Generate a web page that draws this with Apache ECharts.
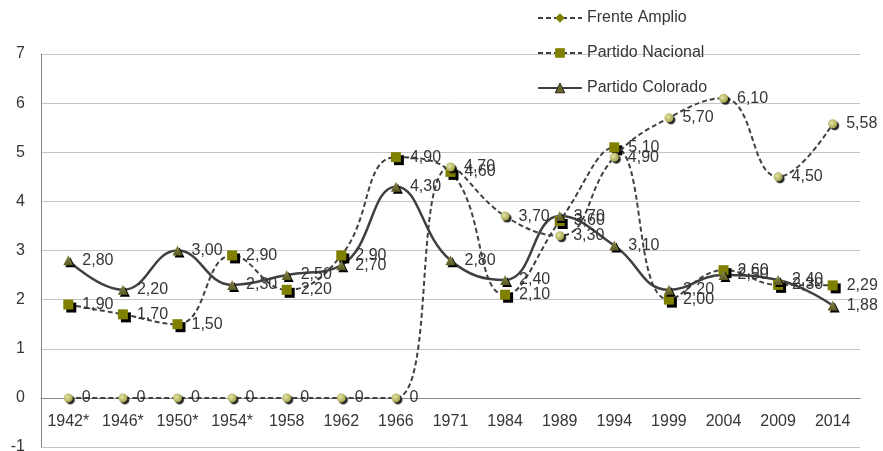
<!DOCTYPE html>
<html><head><meta charset="utf-8">
<script src="https://cdn.jsdelivr.net/npm/echarts@6/dist/echarts.min.js"></script>
<style>html,body{margin:0;padding:0;background:#fff}#c{width:883px;height:451px}</style>
</head><body><div id="c"></div>
<script>
const categories = ['1942*','1946*','1950*','1954*','1958','1962','1966','1971','1984','1989','1994','1999','2004','2009','2014'];
const frenteAmplio = [0,0,0,0,0,0,0,4.70,3.70,3.30,4.90,5.70,6.10,4.50,5.58];
const partidoNacional = [1.90,1.70,1.50,2.90,2.20,2.90,4.90,4.60,2.10,3.60,5.10,2.00,2.60,2.30,2.29];
const partidoColorado = [2.80,2.20,3.00,2.30,2.50,2.70,4.30,2.80,2.40,3.70,3.10,2.20,2.50,2.40,1.88];
const yMin = -1, yMax = 7, yStep = 1;

const FONT = "'Liberation Sans', Arial, sans-serif";
const TXT = '#363636';
const fmt = p => { const v = Number(p.value); return v === 0 ? '0' : v.toFixed(2).replace('.', ','); };
const lbl = { show: true, position: 'right', distance: 9, formatter: fmt, color: TXT, fontSize: 16, fontFamily: FONT };

const faColor = new echarts.graphic.RadialGradient(0.4, 0.4, 0.7, [
  { offset: 0, color: '#e4e4a8' }, { offset: 1, color: '#9a9a3c' }]);
const pcColor = new echarts.graphic.LinearGradient(0, 0, 0, 1, [
  { offset: 0, color: '#8a8a50' }, { offset: 1, color: '#5a5a20' }]);

const chart = echarts.init(document.getElementById('c'), null, { renderer: 'canvas' });
chart.setOption({
  animation: false,
  textStyle: { fontFamily: FONT },
  grid: { left: 41, right: 23, top: 54, bottom: 4, containLabel: false, outerBoundsMode: 'none' },
  legend: {
    orient: 'vertical', left: 537, top: 10, padding: 0, itemWidth: 44, itemHeight: 12, itemGap: 19,
    textStyle: { color: TXT, fontSize: 16, fontFamily: FONT },
    itemStyle: { shadowBlur: 0, shadowOffsetX: 0, shadowOffsetY: 0, shadowColor: 'rgba(0,0,0,0)' },
    data: [
      { name: 'Frente Amplio', itemStyle: { color: '#808000' } },
      { name: 'Partido Nacional', itemStyle: { color: '#808000' } },
      { name: 'Partido Colorado', itemStyle: { color: '#6b6b20', borderColor: '#202020', borderWidth: 1 } }
    ]
  },
  xAxis: {
    type: 'category', data: categories, boundaryGap: true,
    axisLine: { onZero: true, lineStyle: { color: '#868686', width: 1 } },
    axisTick: { show: false },
    axisLabel: { color: TXT, fontSize: 16, fontFamily: FONT, margin: -33, interval: 0 },
    splitLine: { show: false }
  },
  yAxis: {
    type: 'value', min: yMin, max: yMax, interval: yStep,
    axisLine: { show: true, lineStyle: { color: '#868686', width: 1 } },
    axisTick: { show: false },
    axisLabel: { color: TXT, fontSize: 16, fontFamily: FONT, margin: 16 },
    splitLine: { lineStyle: { color: '#c4c4c4', width: 1 } }
  },
  series: [
    {
      name: 'Frente Amplio', type: 'line', smooth: 0.45, symbol: 'diamond', symbolSize: 9,
      data: frenteAmplio.map(v => ({ value: v, symbol: 'circle' })),
      lineStyle: { color: '#404040', width: 2, type: [5, 3] },
      itemStyle: { color: faColor, borderWidth: 0, shadowColor: 'rgba(0,0,0,0.85)', shadowOffsetX: 2, shadowOffsetY: 2, shadowBlur: 1 },
      label: lbl, emphasis: { disabled: true }, z: 3
    },
    {
      name: 'Partido Nacional', type: 'line', smooth: 0.45, symbol: 'rect', symbolSize: 10,
      data: partidoNacional,
      lineStyle: { color: '#404040', width: 2, type: [5, 3] },
      itemStyle: { color: '#808000', borderWidth: 0, shadowColor: '#000', shadowOffsetX: 3, shadowOffsetY: 3, shadowBlur: 0 },
      label: lbl, emphasis: { disabled: true }, z: 2
    },
    {
      name: 'Partido Colorado', type: 'line', smooth: 0.45, symbol: 'triangle', symbolSize: 10,
      data: partidoColorado,
      lineStyle: { color: '#404040', width: 2.5, type: 'solid' },
      itemStyle: { color: pcColor, borderWidth: 0, shadowColor: '#000', shadowOffsetX: 2, shadowOffsetY: 2, shadowBlur: 0 },
      label: lbl, emphasis: { disabled: true }, z: 2
    }
  ]
});
</script>
</body></html>
